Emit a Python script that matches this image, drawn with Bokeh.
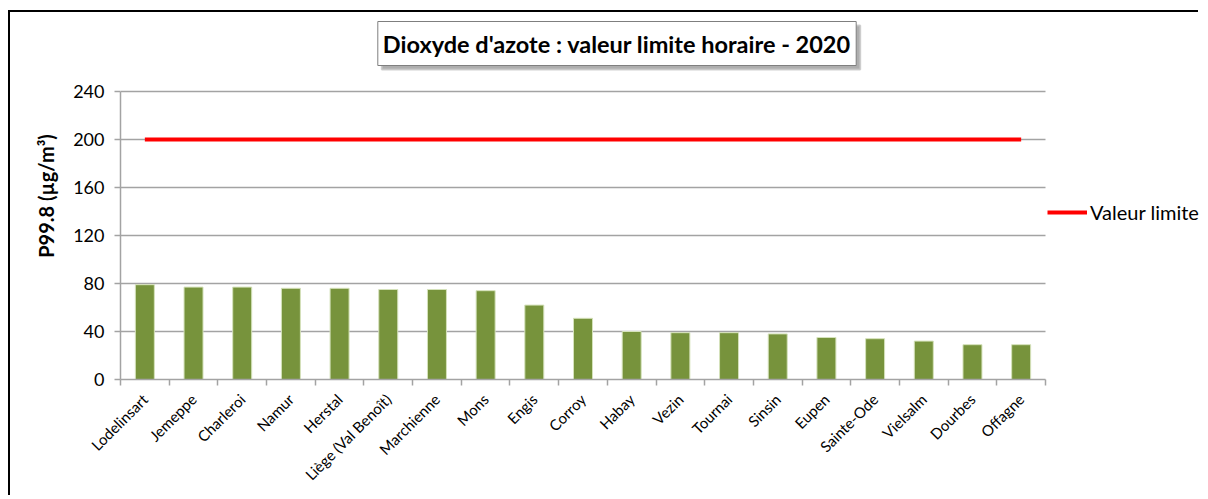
from bokeh.plotting import figure
from bokeh.models import Range1d, FixedTicker, Label, Legend, LegendItem
from bokeh.embed import file_html
from bokeh.resources import INLINE
import math

categories = ["Lodelinsart", "Jemeppe", "Charleroi", "Namur", "Herstal",
              "Liège (Val Benoît)", "Marchienne", "Mons", "Engis", "Corroy",
              "Habay", "Vezin", "Tournai", "Sinsin", "Eupen", "Sainte-Ode",
              "Vielsalm", "Dourbes", "Offagne"]
p998_values = [79, 77, 77, 76, 76, 75, 75, 74, 62, 51,
               40, 39, 39, 38, 35, 34, 32, 29, 29]
limit_value = 200
y_ticks = [0, 40, 80, 120, 160, 200, 240]
title_text = "Dioxyde d'azote : valeur limite horaire - 2020"
y_label = "P99.8 (µg/m³)"
legend_label = "Valeur limite"

n = len(categories)
xs = list(range(n))
limit_values = [limit_value] * n

FONT = "Lato"
GRAY = "#a3a3a3"

W, H = 1190, 485
ML, MB = 110, 118            # left / bottom borders (px)
AX_W = 925                   # width of the category axis (px)
PX_X = AX_W / n
PX_Y = 1.2                   # px per data unit
x_end = (n - 0.5) + (W - ML - AX_W) / PX_X
y_end = (H - MB) / PX_Y

p = figure(width=W, height=H,
           x_range=Range1d(-0.5, x_end), y_range=Range1d(0, y_end),
           output_backend="svg", toolbar_location=None,
           min_border_left=ML, min_border_right=0,
           min_border_top=0, min_border_bottom=MB)
p.margin = (10, 0, 0, 8)
p.styles = {"border-left": "2px solid black", "border-top": "2px solid black"}
p.outline_line_color = None
p.background_fill_color = "white"
p.border_fill_color = "white"

bars = p.vbar(x=xs, top=p998_values, width=0.39, fill_color="#77933C",
              line_color="#d5e2bb", line_width=1)
lim = p.line(x=xs, y=limit_values, line_color="#FF0000", line_width=4)

# axes
p.xgrid.visible = False
p.ygrid.grid_line_color = GRAY
p.ygrid.grid_line_width = 1.5
p.ygrid.cross_bounds = (-0.5, n - 0.5)
p.yaxis.bounds = (0, 240)
p.yaxis.ticker = FixedTicker(ticks=y_ticks)
p.yaxis.axis_line_color = GRAY
p.yaxis.axis_line_width = 1.5
p.yaxis.major_tick_line_color = GRAY
p.yaxis.major_tick_line_width = 1.5
p.yaxis.major_tick_out = 6
p.yaxis.major_tick_in = 0
p.yaxis.minor_tick_line_color = None
p.yaxis.major_label_text_font = FONT
p.yaxis.major_label_text_font_size = "18px"
p.yaxis.major_label_text_color = "black"
p.yaxis.major_label_standoff = 10
p.yaxis.axis_label = y_label
p.yaxis.axis_label_text_font = FONT
p.yaxis.axis_label_text_font_size = "20px"
p.yaxis.axis_label_text_font_style = "bold"
p.yaxis.axis_label_text_color = "black"
p.yaxis.axis_label_standoff = 12

p.xaxis.bounds = (-0.5, n - 0.5)
p.xaxis.ticker = FixedTicker(ticks=xs, minor_ticks=[i - 0.5 for i in range(n + 1)])
p.xaxis.major_label_overrides = {i: c for i, c in zip(xs, categories)}
p.xaxis.major_label_orientation = math.pi / 4
p.xaxis.major_label_text_font = FONT
p.xaxis.major_label_text_font_size = "15px"
p.xaxis.major_label_text_color = "black"
p.xaxis.major_label_standoff = 11
p.xaxis.axis_line_color = GRAY
p.xaxis.axis_line_width = 1.5
p.xaxis.major_tick_line_color = None
p.xaxis.minor_tick_line_color = GRAY
p.xaxis.minor_tick_line_width = 1.5
p.xaxis.minor_tick_out = 6
p.xaxis.minor_tick_in = 0

# title box with shadow (positions in data units of the chart)
tx = (616.5 - 120) / PX_X - 0.5
ty = (379 - 43) / PX_Y
common = dict(x=tx, y=ty, text=title_text, text_align="center", text_baseline="middle",
              text_font=FONT, text_font_size="23.5px", text_font_style="bold",
              padding=(5, 8))
shadow = Label(**common, text_color="#9a9a9a", x_offset=4, y_offset=-4,
               background_fill_color="#9a9a9a", background_fill_alpha=0.8,
               border_line_color="#c4c4c4", border_line_alpha=0.8, border_line_width=2)
main = Label(**common, text_color="black",
             background_fill_color="white", background_fill_alpha=1,
             border_line_color="#7f7f7f", border_line_width=1)
p.add_layout(shadow)
p.add_layout(main)

legend = Legend(items=[LegendItem(label=legend_label, renderers=[lim])],
                location=(927, 155), glyph_width=40, glyph_height=16,
                label_text_font=FONT, label_text_font_size="20px",
                label_text_color="black", label_standoff=3,
                border_line_alpha=0, background_fill_alpha=0,
                padding=0, margin=0)
p.add_layout(legend)

open("out.html", "w").write(file_html(p, INLINE))
